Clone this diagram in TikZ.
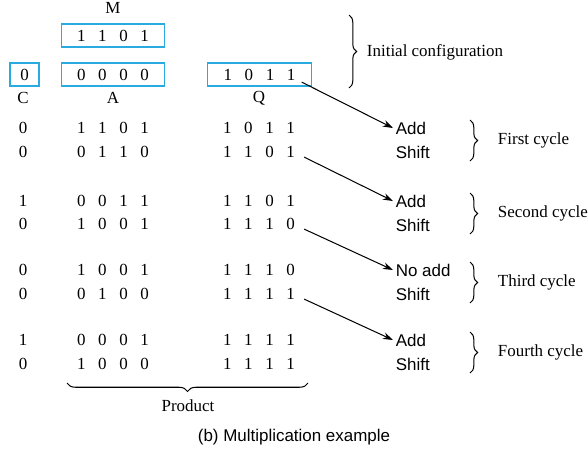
\documentclass[tikz,border=0pt]{standalone}
\usepackage{fontspec}
\setmainfont{Liberation Serif}
\setsansfont{Liberation Sans}
\usetikzlibrary{decorations.pathreplacing,arrows.meta}
\definecolor{regblue}{RGB}{41,171,226}
% four bits of a register, spaced out
\newcommand{\nib}[4]{#1\hspace{7.4pt}#2\hspace{7.4pt}#3\hspace{7.4pt}#4}

\begin{document}
\begin{tikzpicture}[x=0.59pt,y=-0.59pt,
    reg/.style={draw=regblue, line width=0.8pt, minimum height=13.6pt, inner sep=0pt},
    op/.style={font=\sffamily, anchor=west, inner sep=1.5pt},
    arrow/.style={line width=0.6pt, -{Stealth[length=6pt,width=4pt]}},
    brace/.style={decorate, decoration={brace, amplitude=4.5pt}, line width=0.6pt}
  ]
    \useasboundingbox (0,0) rectangle (588,450);

    % Registers
    \node (mlab) at (113,8) {M};
    \node[reg, minimum width=61pt] (mreg) at (113,35.5) {\nib1101};
    \node[reg, minimum width=17pt] (creg) at (24.5,74.5) {0};
    \node[reg, minimum width=61pt] (areg) at (113,74.5) {\nib0000};
    \node[reg, minimum width=61pt] (qreg) at (259.5,74.5) {\nib1011};
    \node (clab) at (23,98) {C};
    \node (alab) at (113,98) {A};
    \node (qlab) at (259,98) {Q};

    % Rows
    \foreach \y/\c/\a/\q [count=\i] in {128/0/1101/1011, 152/0/0110/1101,
        201/1/0011/1101, 224/0/1001/1110, 270/0/1001/1110, 294/0/0100/1111,
        340/1/0001/1111, 364/0/1000/1111} {
      \node (c\i) at (23,\y) {\c};
      \node (a\i) at (113,\y) {\expandafter\nib\a};
      \node (q\i) at (259,\y) {\expandafter\nib\q};
    }

    % Operations
    \foreach \y/\o/\t [count=\i] in {128/Add/First, 201/Add/Second,
        270/No add/Third, 340/Add/Fourth} {
      \node[op] (add\i) at (393,\y) {\o};
      \node[op] (sh\i) at (393,\y+24) {Shift};
      \coordinate (bt\i) at (470,\y-8);
      \coordinate (bb\i) at (470,\y+33);
      \draw[brace] (bt\i) -- (bb\i);
      \node[anchor=west] (cyc\i) at (492,\y+12) {\t\ cycle};
    }

    % Arrows
    \draw[arrow] ([xshift=-6pt,yshift=-4.5pt]qreg.east) -- (add1.west);
    \draw[arrow] ([xshift=2pt,yshift=-3pt]q2.east) -- (add2.west);
    \draw[arrow] ([xshift=2pt,yshift=-3pt]q4.east) -- (add3.west);
    \draw[arrow] ([xshift=2pt,yshift=-3pt]q6.east) -- (add4.west);

    % Braces
    \coordinate (it) at (349,15);
    \coordinate (ib) at (349,88);
    \draw[brace] (it) -- (ib);
    \node[anchor=west] (init) at (361,52) {Initial configuration};
    \coordinate (pr) at (308,383);
    \coordinate (pl) at (67,383);
    \draw[brace, decoration={amplitude=5pt}] (pr) -- (pl);
    \node (prod) at (188,406) {Product};

    \node[font=\sffamily] (cap) at (294,437) {(b) Multiplication example};
\end{tikzpicture}
\end{document}
